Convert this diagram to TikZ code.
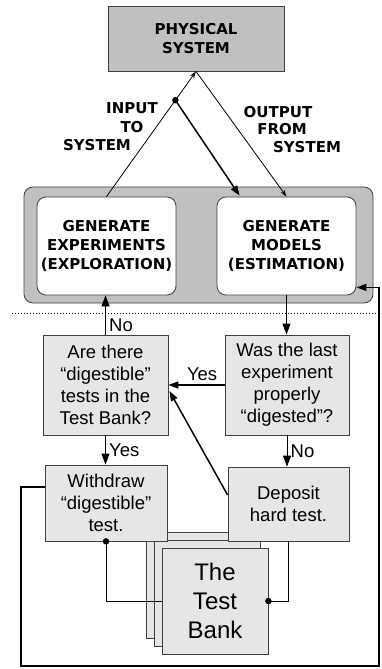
\documentclass[tikz,border=0pt]{standalone}
\usepackage{fontspec}
\setmainfont{Liberation Sans}
\newfontfamily\heavyfont{DejaVu Sans}
\usepackage{tikz}
\usetikzlibrary{arrows.meta,calc,positioning}
\definecolor{physgray}{HTML}{C0C0C0}
\definecolor{boxgray}{HTML}{E6E6E6}
\definecolor{edgegray}{HTML}{404040}

\begin{document}
\begin{tikzpicture}[x=1pt,y=-1pt,line width=0.8pt,
  capsfont/.style={font=\heavyfont\bfseries\fontsize{15}{19}\selectfont},
  plainfont/.style={font=\fontsize{18.5}{22}\selectfont},
  genbox/.style={draw=edgegray,fill=white,rounded corners=9pt,minimum width=139pt,minimum height=98pt,align=center,capsfont,inner sep=0pt},
  testbox/.style={draw=edgegray,fill=boxgray,align=center,plainfont,inner sep=0pt},
  bankbox/.style={draw=edgegray,fill=boxgray,minimum width=106pt,minimum height=106pt},
  thinarr/.style={-{Stealth[length=7pt,width=4.5pt]}},
  bigarr/.style={-{Triangle[length=11pt,width=8pt]}},
  boldarr/.style={-{Triangle[length=10pt,width=7pt]},line width=1.5pt},
  tap/.style={circle,fill,inner sep=0pt,minimum size=6.5pt}]
  \useasboundingbox (0,0) rectangle (381,669);
  % upper half: system and the two generators
  \node[draw=edgegray,fill=physgray,minimum width=176pt,minimum height=65pt,capsfont,align=center] (phys) at (196,38.5) {PHYSICAL\\SYSTEM};
  \node[draw=edgegray,fill=physgray,rounded corners=9pt,minimum width=349pt,minimum height=116pt] (panel) at (198.5,245) {};
  \node[genbox] (gexp) at (106.5,246) {GENERATE\\EXPERIMENTS\\(EXPLORATION)};
  \node[genbox] (gmod) at (286.5,246) {GENERATE\\MODELS\\(ESTIMATION)};
  \node[capsfont] (inA) at (132,108) {INPUT};
  \node[capsfont] (inB) at (132,127) {TO};
  \node[capsfont] (inC) at (97,145) {SYSTEM};
  \node[capsfont] (outA) at (278,112) {OUTPUT};
  \node[capsfont] (outB) at (282,129) {FROM};
  \node[capsfont] (outC) at (307,147) {SYSTEM};
  \coordinate (split) at ($(gexp.north)!0.77!(phys.south)$);
  \draw[thinarr] (gexp.north) -- (phys.south);
  \draw[boldarr] (split) -- ($(gmod.north west)+(23,-1)$);
  \node[tap] (splitdot) at (split) {};
  \draw[thinarr] (phys.south) -- (gmod.north);
  \draw[dash pattern=on 1.2pt off 1.8pt] (12,313) -- (381,313);
  % lower half: the test bank loop
  \node[bankbox] (back) at (199,585) {};
  \node[bankbox] (middle) at (207,593) {};
  \node[bankbox,font=\fontsize{24}{29}\selectfont,align=center] (bank) at (215,601) {The\\Test\\Bank};
  \node[testbox,minimum width=125pt,minimum height=100pt] (are) at (105.5,385) {Are there\\“digestible”\\tests in the\\Test Bank?};
  \node[testbox,minimum width=124pt,minimum height=100pt] (was) at (287,385) {Was the last\\experiment\\properly\\“digested”?};
  \node[testbox,minimum width=122pt,minimum height=76pt] (wd) at (106,503) {Withdraw\\“digestible”\\test.};
  \node[testbox,minimum width=121pt,minimum height=74pt] (dep) at (288.5,504) {Deposit\\hard test.};
  \draw[bigarr] (gmod.south) -- (gmod.south |- was.north);
  \draw[bigarr] (are.north) -- (are.north |- gexp.south) node[pos=0.25,right,plainfont] {No};
  \draw[boldarr] (was.west) -- (are.east) node[pos=0.4,above,plainfont] {Yes};
  \draw[boldarr] ($(dep.north west)!0.38!(dep.south west)$) -- ($(are.east)+(1,6)$);
  \draw[bigarr] (are.south) -- (are.south |- wd.north) node[midway,right,plainfont] {Yes};
  \draw[bigarr] (was.south) -- (was.south |- dep.north) node[midway,right,plainfont] {No};
  \draw (wd.south) |- (bank.west);
  \node[tap] (wdtap) at (wd.south) {};
  \draw (bank.east) -| (dep.south);
  \node[tap] (banktap) at (bank.east) {};
  \coordinate (wdout) at ($(wd.north west)!0.29!(wd.south west)$);
  \coordinate (lowleft) at (21,666);
  \coordinate (lowright) at (379,666);
  \draw[boldarr] (wdout) -| (lowleft) -- (lowright) |- ($(gmod.south east)+(0,-8)$);
\end{tikzpicture}
\end{document}
